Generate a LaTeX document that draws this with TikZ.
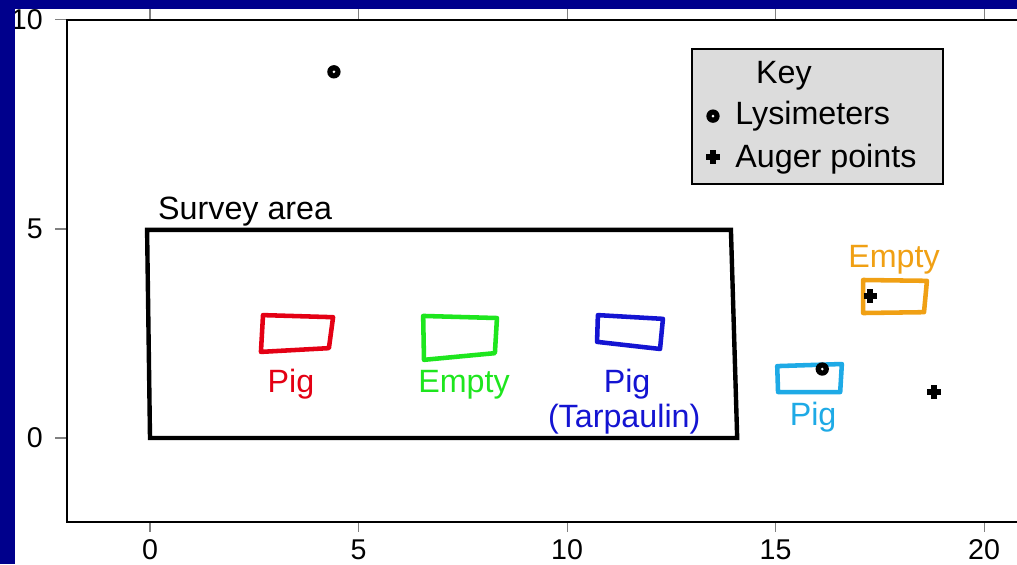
\documentclass[tikz,border=0pt]{standalone}
\usepackage{fontspec}
\setmainfont{Liberation Sans}
\definecolor{slideblue}{RGB}{0,0,140}
\definecolor{keygray}{RGB}{220,220,220}
\definecolor{cred}{RGB}{228,0,20}
\definecolor{cgreen}{RGB}{30,230,30}
\definecolor{cblue}{RGB}{20,20,210}
\definecolor{ccyan}{RGB}{30,170,230}
\definecolor{corange}{RGB}{240,160,20}
\begin{document}
\begin{tikzpicture}[x=1cm,y=1.0024cm,
  lab/.style={font=\fontsize{22}{24}\selectfont, inner sep=0pt},
  ticklab/.style={font=\fontsize{19.5}{21}\selectfont, inner sep=0pt},
  tickline/.style={draw=gray, line width=0.7pt},
  pen/.style={line width=3.1pt, line join=round},
  lysim/.pic={\fill[black] (0,0) circle (0.16); \fill[white] (0,0) circle (0.035);},
  auger/.pic={\draw[black, line width=4pt] (-0.16,0) -- (0.16,0) (0,-0.16) -- (0,0.16);}
]
\useasboundingbox (-3.597,-3.014) rectangle (20.79,10.478);
\fill[white] (-3.597,-3.014) rectangle (20.79,10.478);

% ticks
\foreach \t in {0,5,10,15,20} {
  \draw[tickline] (\t,-2) -- (\t,-2.26);
  \draw[tickline] (\t,10) -- (\t,10.27);
  \node[ticklab, anchor=base] (bx\t) at (\t,-2.9) {\t};
}
\foreach \t in {0,5,10} {
  \draw[tickline] (-2,\t) -- (-2.29,\t);
  \node[ticklab, anchor=east] (ly\t) at (-2.566,\t) {\t};
}

% frame
\draw[black, line width=1.4pt, line join=miter] (20.9,10) -- (-2,10) -- (-2,-2) -- (20.9,-2);

% survey area
\draw[black, line width=3pt, line join=miter] (-0.07,4.98) -- (13.93,4.98) -- (14.08,0) -- (0,0) -- cycle;
\node[lab, anchor=base west] (survey) at (0.19,5.22) {Survey area};

% plots
\draw[pen, cred] (2.71,2.94) -- (4.39,2.89) -- (4.29,2.15) -- (2.66,2.06) -- cycle;
\node[lab, anchor=base, text=cred] (pig1) at (3.38,1.08) {Pig};

\draw[pen, cgreen] (6.55,2.92) -- (8.32,2.87) -- (8.27,2.03) -- (6.57,1.87) -- cycle;
\node[lab, anchor=base, text=cgreen] (empty1) at (7.53,1.08) {Empty};

\draw[pen, cblue] (10.74,2.94) -- (12.30,2.85) -- (12.23,2.13) -- (10.72,2.30) -- cycle;
\node[lab, anchor=base, text=cblue] (pig2) at (11.44,1.08) {Pig};
\node[lab, anchor=base, text=cblue] (tarp) at (11.37,0.25) {(Tarpaulin)};

\draw[pen, ccyan] (15.04,1.72) -- (16.59,1.77) -- (16.55,1.10) -- (15.06,1.10) -- cycle;
\node[lab, anchor=base, text=ccyan] (pig3) at (15.90,0.31) {Pig};

\draw[pen, corange] (17.10,3.78) -- (18.63,3.76) -- (18.56,3.01) -- (17.10,2.99) -- cycle;
\node[lab, anchor=base, text=corange] (empty2) at (17.84,4.09) {Empty};

% points
\pic at (4.41,8.76) {lysim};
\pic at (16.12,1.65) {lysim};
\pic at (17.27,3.40) {auger};
\pic at (18.80,1.10) {auger};

% key
\draw[black, fill=keygray, line width=1.4pt] (13.0,6.08) rectangle (19.02,9.31);
\node[lab, anchor=base] (keyt) at (15.20,8.49) {Key};
\pic at (13.50,7.70) {lysim};
\node[lab, anchor=base west] (klys) at (14.03,7.49) {Lysimeters};
\pic at (13.50,6.72) {auger};
\node[lab, anchor=base west] (kaug) at (14.03,6.48) {Auger points};

% slide background strips
\fill[slideblue] (-3.597,-3.014) rectangle (-3.237,10.478);
\fill[slideblue] (-3.597,10.263) rectangle (20.79,10.478);
\end{tikzpicture}
\end{document}
